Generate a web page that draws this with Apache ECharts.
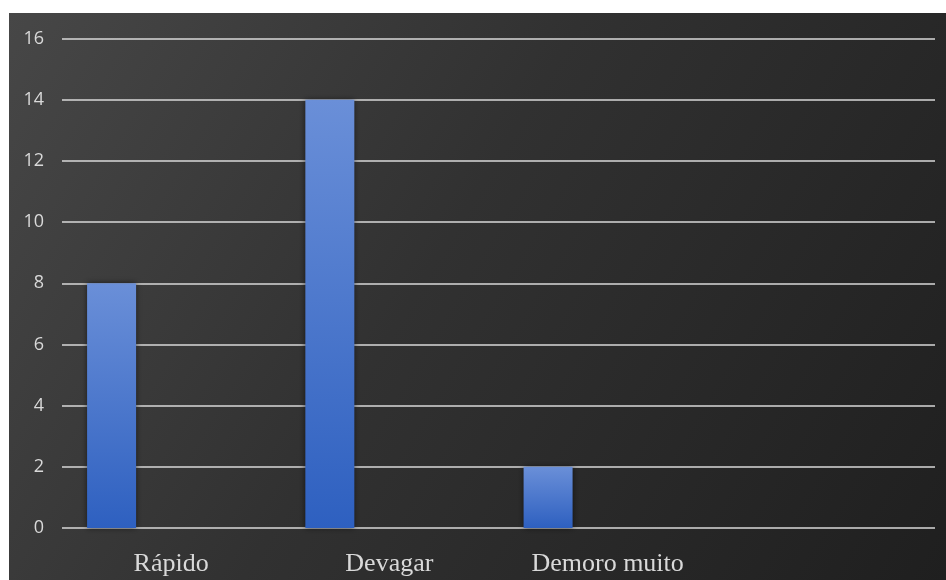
<!DOCTYPE html>
<html>
<head>
<meta charset="utf-8">
<script src="https://cdn.jsdelivr.net/npm/echarts@6/dist/echarts.min.js"></script>
<style>
html,body{margin:0;padding:0;background:#fff;}
#c{width:946px;height:580px;}
</style>
</head>
<body>
<div id="c"></div>
<script>
const categories = ['Rápido', 'Devagar', 'Demoro muito', ''];
const seriesValues = [8, 14, 2, null];
const emptySeries = [null, null, null, null];
const yTicks = { min: 0, max: 16, interval: 2 };

const chart = echarts.init(document.getElementById('c'));
chart.setOption({
  animation: false,
  graphic: [{
    type: 'rect',
    z: -10,
    silent: true,
    shape: { x: 9, y: 13, width: 937, height: 567 },
    style: {
      fill: {
        type: 'linear', x: 0, y: 0, x2: 1, y2: 1,
        colorStops: [
          { offset: 0, color: '#474747' },
          { offset: 0.45, color: '#313131' },
          { offset: 1, color: '#1f1f1f' }
        ]
      }
    }
  }],
  grid: { left: 62, right: 11, top: 38.5, bottom: 52, containLabel: false },
  xAxis: {
    type: 'category',
    data: categories,
    axisLine: { show: false },
    axisTick: { show: false },
    axisLabel: {
      color: '#d9d9d9',
      fontFamily: 'Liberation Serif',
      fontSize: 26,
      margin: 23
    }
  },
  yAxis: {
    type: 'value',
    min: yTicks.min,
    max: yTicks.max,
    interval: yTicks.interval,
    axisLine: { show: false },
    axisTick: { show: false },
    axisLabel: {
      color: '#d9d9d9',
      fontFamily: 'Open Sans',
      fontSize: 18,
      margin: 18
    },
    splitLine: { lineStyle: { color: '#d9d9d9', width: 1.5 } }
  },
  series: [{
    type: 'bar',
    data: seriesValues,
    barWidth: 49,
    barGap: '143%',
    itemStyle: {
      color: {
        type: 'linear', x: 0, y: 0, x2: 0, y2: 1,
        colorStops: [
          { offset: 0, color: '#6a8fd8' },
          { offset: 1, color: '#2e60c0' }
        ]
      },
      shadowBlur: 6,
      shadowColor: 'rgba(0,0,0,0.55)'
    }
  }, {
    type: 'bar',
    data: emptySeries,
    barWidth: 49
  }]
});
</script>
</body>
</html>
